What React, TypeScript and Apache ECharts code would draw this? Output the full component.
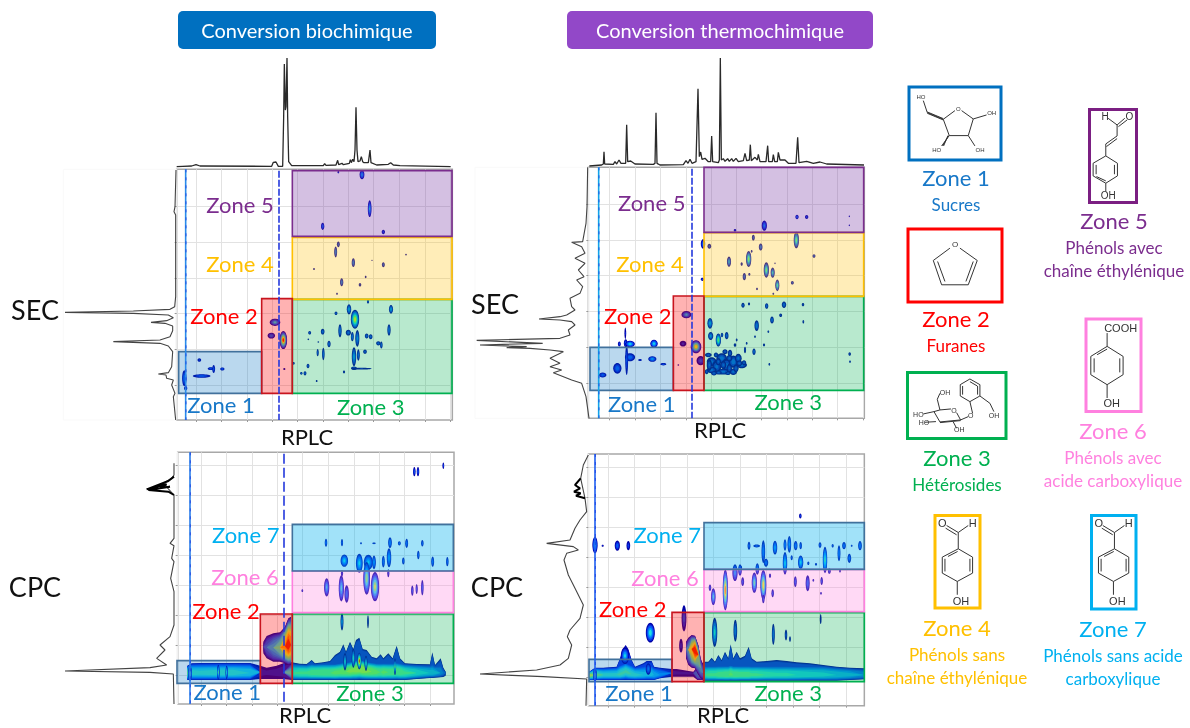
import React, { useEffect, useRef } from "react";
import * as echarts from "echarts";

// All panel values in arbitrary reading units (the reference prints no scale).
type Blob = number[]; // centre RT, centre SEC/CPC, width, height, peak intensity

const colBlue = "#1878c8", colRed = "#ff0000", colGreen = "#00b050", colGold = "#ffc000", colPurple = "#7b2d8e", colPink = "#ff80df", colCyan = "#00b0f0";

const aXTicks = [590, 665, 742, 818, 893, 970, 1045, 1121, 1197, 1275, 1352];
const aYTicks = [470, 577, 685, 790, 897, 1005];
const bXTicks = [448, 525, 602, 678, 753, 830, 905, 982, 1058, 1133, 1210];
const bYTicks = [462, 570, 677, 785, 892, 1000];
const cXTicks = [604, 680, 756, 832, 908, 985, 1062, 1138, 1214, 1291];
const cYTicks = [60, 150, 240, 330, 420, 510, 600, 690];
const dXTicks = [445, 523, 602, 682, 761, 841, 920, 1000, 1079, 1158];
const dYTicks = [68, 158, 248, 338, 428, 518, 608, 698];

const aTop = [[530,350],[548,349],[575,348],[588,344],[600,348],[815,349],[820,337],[828,336],[835,349],[848,349],[851,200],[853,42],[856,180],[858,170],[861,24],[863,200],[866,335],[875,347],[970,347],[974,341],[978,346],[1008,345],[1013,331],[1016,344],[1026,340],[1030,344],[1048,340],[1051,329],[1054,338],[1058,328],[1062,335],[1065,300],[1068,172],[1071,300],[1074,335],[1080,333],[1084,320],[1088,335],[1092,338],[1105,338],[1110,300],[1113,338],[1130,345],[1165,343],[1172,338],[1180,345],[1200,347],[1352,350]];
const aLeft = [[528,360],[525,470],[522,485],[527,495],[527,740],[524,770],[510,778],[400,783],[195,787],[400,790],[505,795],[520,803],[500,812],[453,817],[495,820],[518,828],[518,842],[510,860],[480,870],[340,875],[480,880],[505,888],[518,905],[515,950],[505,968],[475,972],[498,975],[500,985],[520,990],[515,1005],[525,1030],[520,1040],[527,1110]];
const bTop = [[388,348],[425,345],[430,342],[432,305],[434,342],[460,343],[465,335],[470,342],[477,330],[483,340],[497,340],[500,224],[503,335],[512,333],[525,342],[580,343],[585,340],[588,188],[591,340],[600,345],[670,344],[678,332],[684,340],[690,328],[696,340],[708,335],[714,116],[718,320],[722,306],[726,328],[735,325],[745,335],[752,335],[755,258],[758,335],[775,338],[778,330],[781,24],[784,330],[790,326],[795,334],[803,326],[808,334],[815,326],[820,334],[828,325],[835,335],[850,332],[855,310],[860,332],[868,330],[871,284],[874,332],[885,322],[892,330],[895,313],[900,335],[918,335],[923,287],[926,335],[937,335],[940,314],[944,335],[952,335],[955,307],[960,330],[975,330],[985,340],[1008,340],[1013,262],[1017,338],[1040,334],[1060,340],[1080,336],[1100,342],[1212,345]];
const bLeft = [[383,352],[381,470],[378,520],[368,575],[335,577],[365,590],[375,610],[345,625],[375,640],[355,660],[372,680],[350,690],[368,710],[360,730],[330,745],[335,770],[345,780],[320,795],[300,800],[237,807],[300,810],[335,815],[345,825],[325,840],[330,855],[300,865],[50,871],[248,880],[60,885],[200,890],[140,893],[210,895],[270,900],[310,905],[270,925],[300,940],[270,950],[305,960],[280,968],[335,990],[365,1000],[378,1040],[387,1105]];
const cLeft = [[522,55],[522,90],[515,100],[490,115],[522,150],[522,280],[510,295],[522,302],[515,340],[522,350],[512,400],[522,440],[522,540],[510,575],[480,600],[495,615],[470,640],[500,660],[450,668],[195,678],[450,682],[520,687],[522,777]];
const cNoise = [[522,95],[505,108],[440,133],[500,118],[480,128],[510,125],[445,135],[505,140],[522,150]];
const dLeft = [[385,30],[370,60],[362,100],[375,160],[380,200],[360,225],[345,250],[330,285],[260,295],[340,305],[355,315],[320,325],[312,345],[325,390],[345,430],[370,480],[360,520],[330,555],[322,575],[335,600],[325,640],[300,660],[230,675],[60,687],[250,695],[380,702],[378,782]];
const dNoise = [[362,100],[345,120],[360,130],[342,140],[362,145],[348,152],[375,160]];

const aBlobs: Blob[] = [
  [598,930,8,8,.15],[605,978,45,8,.25],[632,956,14,6,.2],[641,957,6,20,.2],[667,957,10,7,.2],[553,985,10,42,.3],[557,1015,7,10,.1],
  [825,817,26,18,.5],[814,857,18,14,.3],[850,870,18,48,1],[853,957,4,4,.1],
  [1065,808,20,50,.85],[1047,778,10,26,.4],[1008,790,6,8,.2],[1173,778,9,22,.4],[1104,755,4,8,.2],[1167,840,7,30,.3],[1020,842,7,34,.3],[968,845,8,14,.25],[929,848,6,8,.2],[1045,848,12,14,.25],[1057,860,6,24,.3],[1072,865,9,44,.35],[1100,858,8,12,.25],[1112,860,8,12,.25],[1135,880,10,10,.25],[1144,885,5,18,.25],[987,882,7,16,.25],[953,908,4,18,.2],[970,912,5,32,.25],[1095,905,8,10,.2],[1062,920,10,50,.4],[1075,915,6,30,.25],[1062,955,14,8,.25],[1085,956,50,3,.1],[924,948,6,10,.2],[915,970,6,10,.2],[904,970,5,6,.2],[881,940,4,6,.15],[1032,966,4,6,.1],[950,993,3,4,.08],[925,868,3,3,.08],[955,876,3,3,.05],
  [1015,583,6,14,.2],[1007,606,6,28,.3],[1060,638,7,22,.3],[1150,644,6,12,.2],[1025,697,7,20,.3],[1080,704,5,8,.15],[942,657,3,4,.08],[1097,681,3,5,.08],[1218,614,3,3,.05],[1011,731,3,4,.08],[1116,631,2,2,.05],
  [1086,374,11,24,.4],[1109,476,8,44,.45],[968,529,7,18,.3],[1150,546,7,10,.2],[1015,367,3,5,.1],
];
const bBlobs: Blob[] = [
  [497,880,8,20,.3],[510,882,24,16,.5],[582,881,18,20,.5],[478,882,6,12,.2],[496,850,3,30,.12],
  [510,922,25,20,.3],[500,930,6,80,.2],[577,927,20,14,.4],[472,955,20,28,.3],[610,943,14,5,.2],[428,975,18,12,.25],[540,930,8,4,.1],
  [679,794,24,18,.45],[669,881,16,14,.15],[708,890,26,34,.85],[722,932,20,24,.25],[655,945,3,3,.05],
  [755,935,24,22,.25],[770,950,22,32,.25],[785,925,26,26,.3],[800,945,24,34,.25],[820,935,22,32,.3],[835,925,16,24,.25],[845,945,26,16,.25],[755,960,24,16,.25],[790,965,30,14,.25],[820,965,18,16,.25],[745,915,16,10,.2],[810,910,10,18,.2],[855,900,4,16,.15],[825,885,5,8,.1],[830,870,3,6,.1],[795,905,12,12,.2],[768,915,10,12,.2],
  [748,945,12,30,.22],[762,970,14,10,.22],[775,935,12,18,.22],[790,945,14,20,.22],[808,955,12,24,.22],[808,925,14,16,.22],[828,955,12,20,.22],[838,940,14,14,.22],[852,938,10,12,.2],[740,965,8,12,.2],[776,968,14,8,.22],[804,970,12,8,.22],
  [775,870,12,34,.7],[750,820,12,28,.4],[752,858,12,20,.35],[800,857,8,18,.25],[786,855,5,10,.2],
  [882,905,7,16,.25],[890,827,10,28,.3],[936,810,8,18,.25],[962,796,6,8,.15],[972,764,10,16,.25],[920,768,7,14,.25],[849,766,7,12,.2],[867,762,4,6,.15],[1029,764,5,7,.15],[1030,815,3,8,.1],[912,885,4,6,.1],[925,845,3,5,.1],[885,860,3,5,.1],[860,880,3,6,.1],[928,943,3,6,.1],[1169,912,5,8,.15],[1170,935,3,5,.1],
  [729,582,10,24,.3],[748,589,8,12,.2],[880,563,6,14,.2],[902,591,8,18,.3],[1009,570,12,44,.6],[1062,618,6,8,.2],[807,635,9,26,.4],[866,627,12,42,.65],[875,604,3,6,.1],[845,642,4,8,.12],[868,673,4,6,.15],[853,680,7,18,.25],[919,660,12,40,.6],[938,668,9,26,.45],[945,640,2,3,.05],[952,706,9,30,.55],[997,698,6,8,.2],[891,717,3,5,.1],[940,731,3,4,.1],[727,688,7,7,.2],
  [1011,501,7,10,.3],[1040,501,7,9,.2],[913,527,12,26,.35],[825,541,5,6,.15],[1168,499,2,3,.05],[1168,526,2,3,.05],
];
const cBlobs: Blob[] = [
  [1243,80,5,24,.25],[1254,80,5,24,.25],[1330,62,3,16,.2],
  [978,293,5,20,.25],[1026,293,4,18,.2],[1083,295,3,4,.1],[1122,295,8,3,.1],[1170,293,8,28,.3],[1198,295,6,10,.25],[1220,295,6,24,.25],[1267,295,5,16,.2],[1167,338,10,50,.4],[1255,330,5,22,.2],[1033,347,18,32,.5],[1078,355,16,50,.5],[1105,352,22,40,.45],[1122,352,8,36,.35],[1150,350,6,30,.25],[1210,348,5,18,.2],[1298,350,6,26,.25],[1342,350,5,24,.2],[1165,385,4,20,.15],
  [980,427,12,48,.45],[1024,430,12,70,.5],[1040,447,10,46,.3],[1100,400,16,88,.7],[1125,425,20,78,.75],[1237,437,5,26,.2],[1250,432,4,26,.2],[1267,428,5,40,.25],[907,437,3,6,.1],[1026,385,4,16,.15],
  [1026,530,6,46,.35],[1104,530,3,34,.12],
  [1035,650,7,46,.5],[1060,640,7,50,.55],[1078,648,9,44,1],[1098,655,6,40,.5],[570,685,8,40,.8],[1185,665,4,44,.6],[655,682,5,40,.62],[680,682,4,36,.55],
];
const dBlobs: Blob[] = [
  [405,300,12,44,.5],[428,302,4,4,.1],[472,302,12,26,.3],[505,302,8,24,.2],[571,563,22,52,.55],[1021,213,5,12,.2],
  [867,302,6,20,.2],[890,303,16,6,.2],[910,320,8,60,.3],[945,308,10,36,.4],[975,300,6,30,.3],[988,298,8,44,.35],[1007,302,8,24,.3],[1022,302,5,18,.2],[1080,300,6,14,.2],[1095,345,10,70,.6],[1118,302,4,8,.15],[1137,325,6,42,.3],[1152,302,8,18,.25],[1175,302,3,4,.1],[1200,302,8,24,.3],[1168,340,8,24,.25],[975,355,10,60,.5],[995,338,4,12,.15],[1022,352,12,36,.5],[1045,355,4,8,.15],[1068,358,4,6,.1],[1108,378,6,14,.2],[1140,377,3,8,.1],[918,353,10,20,.25],[842,368,6,10,.15],
  [796,435,12,110,.95],[825,383,12,44,.4],[840,375,8,30,.3],[848,410,6,22,.2],[760,455,10,44,.5],[750,428,5,16,.2],[883,413,12,54,.6],[910,420,14,80,.85],[910,462,5,22,.2],[892,372,8,30,.3],[930,392,4,10,.15],[938,445,5,20,.2],[1006,410,6,28,.25],[1043,415,9,42,.3],[1060,406,3,6,.1],[1085,408,5,20,.2],[1083,445,3,6,.1],
  [764,562,12,78,.5],[826,557,8,58,.3],[940,568,6,56,.3],[978,570,5,28,.2],[990,582,3,14,.12],[1082,522,3,26,.08],
  [672,520,11,70,.25],[663,602,8,36,.15],
  [495,632,20,44,.48],[405,690,8,34,.8],[565,672,12,30,.32],
];

// Broad contour ridges: retention, upper edge, lower edge, ridge line, ridge intensity.
const cBandX = [562,575,600,655,700,750,781,800,830,850,875,900,920,935,945,970,990,1005,1020,1030,1038,1050,1060,1068,1078,1088,1100,1115,1130,1142,1150,1165,1178,1190,1200,1215,1250,1290,1297,1305,1322,1330,1337];
const cBandTop = [662,655,654,654,654,654,662,668,662,655,652,656,657,645,655,652,648,630,620,598,620,590,612,585,578,612,615,635,640,628,640,625,640,602,640,655,657,658,622,660,640,668,680];
const cBandBottom = [705,705,705,705,705,705,702,702,702,702,705,705,705,705,705,705,705,705,705,705,705,705,705,705,705,705,705,705,705,705,705,705,705,705,705,705,702,699,699,698,697,696,692];
const cBandCentre = [684,684,684,684,684,684,682,682,682,682,684,684,684,684,684,684,684,684,682,680,680,678,676,674,670,674,678,680,682,682,682,682,682,680,682,684,684,684,684,684,684,684,684];
const cBandPeak = [.62,.52,.5,.52,.52,.48,.08,.07,.08,.1,.5,.55,.55,.58,.58,.6,.6,.62,.62,.65,.65,.68,.68,.7,.72,.72,.68,.66,.62,.6,.62,.6,.6,.6,.6,.55,.48,.4,.4,.38,.3,.22,.12];
const c2X = [790,800,820,840,855,865,873];
const c2Top = [590,573,565,562,545,520,515];
const c2Bottom = [625,640,650,650,655,660,660];
const c2Centre = [605,607,608,608,604,600,600];
const c2Peak = [.1,.25,.38,.55,.85,1,.9];

const dBandX = [388,405,430,470,480,490,497,505,515,525,550,560,575,582,600,636,650,700,712,725,732,745,755,765,775,785,795,805,812,820,830,840,855,866,875,890,920,950,980,1010,1050,1090,1130,1170,1213];
const dBandTop = [680,668,668,665,640,610,600,612,645,665,655,648,648,665,668,672,672,680,665,655,650,650,638,650,630,645,620,640,598,640,620,640,632,605,640,650,648,645,648,652,655,660,665,668,670];
const dBandBottom = [705,705,705,705,705,705,705,705,705,705,705,705,705,705,700,695,695,695,705,705,707,707,707,707,707,707,707,707,707,707,707,707,707,707,707,707,707,707,707,707,707,707,707,705,703];
const dBandCentre = [690,690,690,690,688,684,680,684,688,690,690,688,688,690,690,684,684,684,690,690,690,690,690,690,690,690,690,690,688,690,690,690,690,690,690,690,690,690,690,690,690,690,690,690,690];
const dBandPeak = [.75,.62,.5,.5,.55,.55,.55,.55,.52,.5,.45,.45,.45,.42,.32,.08,.07,.07,.3,.4,.5,.55,.55,.55,.58,.58,.6,.6,.62,.6,.6,.58,.58,.58,.55,.55,.52,.5,.5,.48,.46,.44,.42,.38,.3];
const d2X = [678,685,695,705,715,722,730];
const d2Top = [590,578,570,572,600,640,662];
const d2Bottom = [640,660,668,670,690,700,704];
const d2Centre = [612,614,612,615,630,670,684];
const d2Peak = [.2,.4,.75,1,.6,.4,.3];

const zoneLook: Record<string, { fill: string; line: string; alpha: number }> = {
  z1: { fill: "#0070c0", line: "#41719c", alpha: 0.27 },
  z2: { fill: "#ff0000", line: "#c8141e", alpha: 0.3 },
  z3: { fill: "#00b050", line: "#00b050", alpha: 0.28 },
  z4: { fill: "#ffc000", line: "#ffc000", alpha: 0.28 },
  z5: { fill: "#7030a0", line: "#7b2d8e", alpha: 0.3 },
  z6: { fill: "#ff80df", line: "#ff80df", alpha: 0.3 },
  z7: { fill: "#00b0f0", line: "#41719c", alpha: 0.37 },
};

const aZones: [string, number, number, number, number][] = [["z1",536,905,785,1030],["z3",877,748,1356,1030],["z4",877,562,1356,748],["z5",877,362,1356,559],["z2",785,746,877,1030]];
const bZones: [string, number, number, number, number][] = [["z1",390,892,640,1021],["z3",732,739,1211,1021],["z4",732,548,1211,739],["z5",732,352,1211,547],["z2",640,738,732,1021]];
const cZones: [string, number, number, number, number][] = [["z1",531,647,781,715],["z3",877,507,1360,715],["z6",877,378,1360,503],["z7",877,238,1360,378],["z2",781,507,877,715]];
const dZones: [string, number, number, number, number][] = [["z1",387,643,636,710],["z3",732,503,1213,710],["z6",732,373,1213,500],["z7",732,233,1213,373],["z2",636,502,732,710]];

const aLabels: [string, string, number, number][] = [["Zone 5",colPurple,720,464],["Zone 4",colGold,720,640],["Zone 2",colRed,672,797],["Zone 1",colBlue,663,1064],["Zone 3",colGreen,1112,1070]];
const bLabels: [string, string, number, number][] = [["Zone 5",colPurple,575,457],["Zone 4",colGold,570,639],["Zone 2",colRed,533,795],["Zone 1",colBlue,545,1060],["Zone 3",colGreen,985,1055]];
const cLabels: [string, string, number, number][] = [["Zone 7",colCyan,737,267],["Zone 6",colPink,735,395],["Zone 2",colRed,678,497],["Zone 1",colBlue,682,739],["Zone 3",colGreen,1110,743]];
const dLabels: [string, string, number, number][] = [["Zone 7",colCyan,622,267],["Zone 6",colPink,615,397],["Zone 2",colRed,518,490],["Zone 1",colBlue,537,742],["Zone 3",colGreen,985,742]];

const LEVELS = [0, .1, .2, .32, .45, .6, .75, .88, .97];
const BAND_LEVELS = [0, .06, .12, .18, .24, .3, .36, .42, .48, .54, .6, .66, .72, .78, .84, .9, .96];
const BAND_CAP = 30; // reading units: how far the inner contours of a ridge reach above or below it
const JET: [number, number[]][] = [[0,[0,0,165]],[.12,[10,50,235]],[.3,[0,144,255]],[.45,[32,224,224]],[.6,[112,240,112]],[.75,[240,240,32]],[.88,[255,128,0]],[1,[224,0,0]]];
function jet(v: number) {
  for (let i = 1; i < JET.length; i++) {
    if (v <= JET[i][0]) {
      const a = JET[i - 1], b = JET[i], t = (v - a[0]) / (b[0] - a[0]);
      return `rgb(${a[1].map((c, k) => Math.round(c + (b[1][k] - c) * t)).join(",")})`;
    }
  }
  return "rgb(224,0,0)";
}

function blobItem(_: any, api: any) {
  const cx = api.value(0), cy = api.value(1), w = api.value(2), h = api.value(3), p = api.value(4);
  const c = api.coord([cx, cy]), e = api.coord([cx + w / 2, cy + h / 2]);
  const rx = Math.abs(e[0] - c[0]) * 1.15 + 0.3, ry = Math.abs(e[1] - c[1]) * 1.1 + 0.3;
  const children = LEVELS.filter((l) => l <= p).map((l) => {
    const f = 1 - (l / p) * 0.85;
    return { type: "ellipse", shape: { cx: c[0], cy: c[1], rx: Math.max(rx * f, 0.4), ry: Math.max(ry * f, 0.4) }, style: { fill: jet(l) } };
  });
  return { type: "group", children };
}

type Band = { x: number[]; top: number[]; bottom: number[]; centre: number[]; peak: number[]; capped: boolean };
function bandSeries(band: Band, xi: number, yi: number) {
  return {
    type: "custom", coordinateSystem: "cartesian2d", xAxisIndex: xi, yAxisIndex: yi, silent: true,
    data: [[band.x[0], band.top[0]]], encode: { x: 0, y: 1 },
    renderItem: (_: any, api: any) => {
      const children = BAND_LEVELS.map((l) => {
        const up: number[][] = [], low: number[][] = [];
        band.x.forEach((x, i) => {
          const f = Math.pow(Math.max(0, 1 - l / band.peak[i]), 0.45);
          let rise = (band.centre[i] - band.top[i]) * f;
          if (band.capped && l > 0.12) rise = Math.min(rise, BAND_CAP * f);
          up.push(api.coord([x, band.centre[i] - rise]));
          low.unshift(api.coord([x, band.centre[i] + (band.bottom[i] - band.centre[i]) * f]));
        });
        return { type: "polygon", shape: { points: up.concat(low) }, style: { fill: jet(l) } };
      });
      return { type: "group", children };
    },
  };
}

type Panel = {
  ox: number; oy: number; x0: number; x1: number; y0: number; y1: number; l0: number; t0?: number;
  xTicks: number[]; yTicks: number[]; top?: number[][]; left: number[][]; noise?: number[][];
  blobs: Blob[]; bands: Band[]; zones: [string, number, number, number, number][]; labels: [string, string, number, number][];
  solid: number; solidColor: string; dashed: number; dash: number[]; ghost: string;
};
const panels: Panel[] = [
  { ox: 0, oy: 50, x0: 530, x1: 1357, y0: 358, y1: 1110, l0: 190, t0: 24, xTicks: aXTicks, yTicks: aYTicks, top: aTop, left: aLeft, blobs: aBlobs, bands: [], zones: aZones, labels: aLabels, solid: 557, solidColor: "#2a8cea", dashed: 837, dash: [7, 2], ghost: "#f9f9f9" },
  { ox: 460, oy: 50, x0: 385, x1: 1213, y0: 352, y1: 1105, l0: 45, t0: 24, xTicks: bXTicks, yTicks: bYTicks, top: bTop, left: bLeft, blobs: bBlobs, bands: [], zones: bZones, labels: bLabels, solid: 416, solidColor: "#12a4ea", dashed: 696, dash: [7, 2], ghost: "#f9f9f9" },
  { ox: 0, oy: 445, x0: 533, x1: 1362, y0: 22, y1: 777, l0: 190, xTicks: cXTicks, yTicks: cYTicks, left: cLeft, noise: cNoise, blobs: cBlobs,
    bands: [{ x: cBandX, top: cBandTop, bottom: cBandBottom, centre: cBandCentre, peak: cBandPeak, capped: true }, { x: c2X, top: c2Top, bottom: c2Bottom, centre: c2Centre, peak: c2Peak, capped: false }], zones: cZones, labels: cLabels, solid: 570, solidColor: "#2a7eea", dashed: 852, dash: [10, 4], ghost: "#ffffff" },
  { ox: 460, oy: 445, x0: 385, x1: 1213, y0: 27, y1: 782, l0: 45, xTicks: dXTicks, yTicks: dYTicks, left: dLeft, noise: dNoise, blobs: dBlobs,
    bands: [{ x: dBandX, top: dBandTop, bottom: dBandBottom, centre: dBandCentre, peak: dBandPeak, capped: true }, { x: d2X, top: d2Top, bottom: d2Bottom, centre: d2Centre, peak: d2Peak, capped: false }], zones: dZones, labels: dLabels, solid: 405, solidColor: "#2060f0", dashed: -1, dash: [7, 2], ghost: "#ffffff" },
];

const headers = [
  { text: "Conversion biochimique", x: 178, w: 258, fill: "#0070c0" },
  { text: "Conversion thermochimique", x: 567, w: 306, fill: "#9248c8" },
];
const sideLabels = [
  { text: "SEC", x: 35, y: 309, size: 27 }, { text: "SEC", x: 495, y: 303, size: 27 },
  { text: "CPC", x: 35, y: 586, size: 27 }, { text: "CPC", x: 497, y: 586, size: 27 },
  { text: "RPLC", x: 307, y: 436, size: 22 }, { text: "RPLC", x: 720, y: 429, size: 22 },
  { text: "RPLC", x: 305, y: 714, size: 22 }, { text: "RPLC", x: 723, y: 714, size: 22 },
];
const cards = [
  { box: [909, 87, 92, 73], color: "#0070c0", name: "Zone 1", tx: 956, ty: 179, lines: ["Sucres"], tc: colBlue },
  { box: [908, 229, 94, 73], color: "#ff0000", name: "Zone 2", tx: 956, ty: 320, lines: ["Furanes"], tc: colRed },
  { box: [907.5, 372.5, 98.5, 66], color: "#00b050", name: "Zone 3", tx: 957, ty: 459, lines: ["Hétérosides"], tc: colGreen },
  { box: [935, 515.5, 45, 92.5], color: "#ffc000", name: "Zone 4", tx: 957, ty: 629, lines: ["Phénols sans", "chaîne éthylénique"], tc: colGold },
  { box: [1089.5, 109.5, 47, 93], color: "#7b1f82", name: "Zone 5", tx: 1114, ty: 222, lines: ["Phénols avec", "chaîne éthylénique"], tc: colPurple },
  { box: [1086, 319, 55, 92.5], color: "#ff80df", name: "Zone 6", tx: 1113, ty: 432, lines: ["Phénols avec", "acide carboxylique"], tc: colPink },
  { box: [1091.5, 515.5, 44.5, 93.5], color: "#00b0f0", name: "Zone 7", tx: 1113, ty: 630, lines: ["Phénols sans acide", "carboxylique"], tc: colCyan },
];

// Molecule drawings, in the 3x crop's units from the origin given beside each.
const molecules: { name: string; d: string; ox: number; oy: number; texts: [string, number, number, number][] }[] = [
  { name: "molSugar", ox: 890, oy: 70, d: "M160 148L195 122M215 122L250 147L235 197L178 197L160 148M160 148L112 128L100 92M160 146L112 126M160 150L112 130M178 197L155 228M176 197L158 228M174 197L161 228M235 197L255 228M250 147L290 135",
    texts: [["HO", 93, 80, 6], ["OH", 305, 130, 6], ["O", 205, 117, 6], ["HO", 140, 240, 6], ["OH", 270, 240, 6]] },
  { name: "molFuran", ox: 890, oy: 70, d: "M180 535L130 572L155 645L235 645L262 572L210 535M143 575L165 635M250 575L228 635",
    texts: [["O", 195, 522, 8]] },
  { name: "molCinn", ox: 890, oy: 70, d: "M655 145L682 165L705 145M686 170L712 150M682 165L682 198L648 222M682 206L650 230M648 222L648 258L683 280L683 318L648 340L610 318L610 280L648 258M674 285L674 313M619 285L619 313M620 320L648 333M648 340L648 365",
    texts: [["H", 645, 138, 10], ["O", 718, 138, 10], ["OH", 655, 377, 10]] },
  { name: "molAcid", ox: 890, oy: 70, d: "M652 790L652 830L700 860L700 915L652 945L603 915L603 860L652 830M690 866L690 908M613 866L613 908M622 855L652 838M652 945L652 985",
    texts: [["COOH", 692, 775, 11], ["OH", 665, 1000, 11]] },
  { name: "molGluco", ox: 890, oy: 360, d: "M150 150L183 147M200 158L212 180L150 186L132 155L150 150M212 182L150 188M150 150L142 118L150 100M132 155L100 162M138 185L105 187M190 186L200 205M212 180L235 170M248 160L240 125L211 108L211 74L240 57L270 74L270 108L240 125M218 104L218 78M263 104L263 78M240 65L262 78M270 108L300 130L312 155",
    texts: [["OH", 165, 98, 7], ["HO", 85, 163, 7], ["HO", 102, 187, 7], ["OH", 208, 208, 7], ["O", 192, 152, 7], ["O", 242, 165, 7], ["OH", 312, 165, 7]] },
  { name: "molAldA", ox: 890, oy: 360, d: "M170 497L205 518L235 497M167 505L200 525M205 518L205 567L248 592L248 640L202 665L157 640L157 592L205 567M240 597L240 635M165 597L165 635M174 590L203 575M202 665L202 705",
    texts: [["O", 157, 490, 11], ["H", 248, 490, 11], ["OH", 213, 722, 11]] },
  { name: "molAldB", ox: 890, oy: 360, d: "M639 497L674 518L704 497M636 505L669 525M674 518L674 567L717 592L717 640L671 665L626 640L626 592L674 567M709 597L709 635M634 597L634 635M643 590L672 575M671 665L671 705",
    texts: [["O", 626, 490, 11], ["H", 716, 490, 11], ["OH", 682, 722, 11]] },
];

function buildOption() {
  const grid: any[] = [], xAxis: any[] = [], yAxis: any[] = [], series: any[] = [];
  const hidden = { show: false };
  panels.forEach((p) => {
    const left = p.ox + p.x0 / 3, width = (p.x1 - p.x0) / 3, top = p.oy + p.y0 / 3, height = (p.y1 - p.y0) / 3;
    const main = grid.length;
    grid.push({ left, top, width, height, show: true, borderColor: "#a8a8a8", borderWidth: 1.5, backgroundColor: "#fff" });
    xAxis.push({ type: "value", gridIndex: main, min: p.x0, max: p.x1, axisLine: { show: false }, axisLabel: { show: false },
      axisTick: { show: true, length: 2, customValues: p.xTicks, lineStyle: { color: "#999" } }, splitLine: { show: true, lineStyle: { color: "#e2e2e2" } } });
    yAxis.push({ type: "value", gridIndex: main, min: p.y0, max: p.y1, inverse: true, axisLine: { show: false }, axisLabel: { show: false },
      axisTick: { show: true, length: 2, customValues: p.yTicks, lineStyle: { color: "#999" } }, splitLine: { show: true, lineStyle: { color: "#e2e2e2" } } });

    const leftIdx = grid.length;
    grid.push({ left: p.ox + p.l0 / 3, top, width: (p.x0 - p.l0) / 3, height, show: true, borderColor: p.ghost, borderWidth: 1 });
    xAxis.push({ type: "value", gridIndex: leftIdx, min: p.l0, max: p.x0, ...hidden });
    yAxis.push({ type: "value", gridIndex: leftIdx, min: p.y0, max: p.y1, inverse: true, ...hidden });
    series.push({ type: "line", xAxisIndex: leftIdx, yAxisIndex: leftIdx, data: p.left, showSymbol: false, lineStyle: { color: "#444", width: 1.1 }, silent: true });
    if (p.noise) series.push({ type: "line", xAxisIndex: leftIdx, yAxisIndex: leftIdx, data: p.noise, showSymbol: false, lineStyle: { color: "#000", width: 2 }, silent: true });

    if (p.top && p.t0 != null) {
      const topIdx = grid.length;
      grid.push({ left, top: p.oy + p.t0 / 3, width, height: (p.y0 - p.t0) / 3 });
      xAxis.push({ type: "value", gridIndex: topIdx, min: p.x0, max: p.x1, ...hidden });
      yAxis.push({ type: "value", gridIndex: topIdx, min: p.t0, max: p.y0, inverse: true, ...hidden });
      series.push({ type: "line", xAxisIndex: topIdx, yAxisIndex: topIdx, data: p.top, showSymbol: false, lineStyle: { color: "#2a2a2a", width: 1.3 }, silent: true });
    }

    p.bands.forEach((b) => series.push(bandSeries(b, main, main)));
    series.push({ type: "custom", coordinateSystem: "cartesian2d", xAxisIndex: main, yAxisIndex: main, silent: true, data: p.blobs, encode: { x: 0, y: 1 }, renderItem: blobItem });

    series.push({ type: "line", xAxisIndex: main, yAxisIndex: main, data: [[p.solid, p.y0], [p.solid, p.y1]], showSymbol: false, silent: true, lineStyle: { color: p.solidColor, width: 1.6 } });
    series.push({ type: "line", xAxisIndex: main, yAxisIndex: main, data: [[p.solid + 1, p.y0], [p.solid + 1, p.y1]], showSymbol: false, silent: true, lineStyle: { color: "#1a3ee0", width: 0.8, type: [3, 5] } });
    if (p.dashed > 0) series.push({ type: "line", xAxisIndex: main, yAxisIndex: main, data: [[p.dashed, p.y0 + 4], [p.dashed, p.y1]], showSymbol: false, silent: true, lineStyle: { color: "#2238dc", width: 1.6, type: p.dash } });

    series.push({ type: "custom", coordinateSystem: "cartesian2d", xAxisIndex: main, yAxisIndex: main, silent: true,
      data: p.zones.map((z) => z.slice(1)), encode: { x: [0, 2], y: [1, 3] },
      renderItem: (params: any, api: any) => {
        const a = api.coord([api.value(0), api.value(1)]), b = api.coord([api.value(2), api.value(3)]);
        const look = zoneLook[p.zones[params.dataIndex][0]];
        return { type: "group", children: [
          { type: "rect", shape: { x: a[0], y: a[1], width: b[0] - a[0], height: b[1] - a[1] }, style: { fill: look.fill, opacity: look.alpha } },
          { type: "rect", shape: { x: a[0], y: a[1], width: b[0] - a[0], height: b[1] - a[1] }, style: { fill: "none", stroke: look.line, lineWidth: 1.6 } },
        ] };
      } });
    series.push({ type: "custom", coordinateSystem: "cartesian2d", xAxisIndex: main, yAxisIndex: main, silent: true,
      data: p.labels.map((l) => [l[2], l[3]]), encode: { x: 0, y: 1 },
      renderItem: (params: any, api: any) => {
        const c = api.coord([api.value(0), api.value(1)]);
        const l = p.labels[params.dataIndex];
        return { type: "text", style: { text: l[0], x: c[0], y: c[1], fill: l[1], font: "22px Lato", align: "center", verticalAlign: "middle" } };
      } });
  });

  const g: any[] = [];
  const label = (text: string, x: number, y: number, size: number, fill: string, family = "Lato") =>
    ({ type: "text", x, y, style: { text, x: 0, y: 0, fill, font: `${size}px ${family}`, align: "center", verticalAlign: "middle" } });
  headers.forEach((h) => {
    g.push({ type: "rect", shape: { x: h.x, y: 11, width: h.w, height: 38, r: 5 }, style: { fill: h.fill } });
    g.push(label(h.text, h.x + h.w / 2, 30, 20, "#ffffff"));
  });
  sideLabels.forEach((s) => g.push(label(s.text, s.x, s.y, s.size, "#111111")));
  cards.forEach((c) => {
    g.push({ type: "rect", shape: { x: c.box[0], y: c.box[1], width: c.box[2], height: c.box[3] }, style: { fill: "none", stroke: c.color, lineWidth: 3 } });
    g.push(label(c.name, c.tx, c.ty - 1.5, 22, c.tc));
    c.lines.forEach((t, i) => g.push(label(t, c.tx, c.ty + 25.5 + i * 22.5, 17, c.tc)));
  });
  molecules.forEach((m) => {
    g.push({ type: m.name, x: m.ox, y: m.oy, scaleX: 1 / 3, scaleY: 1 / 3, style: { fill: "none", stroke: "#333333", lineWidth: 3 } });
    m.texts.forEach((t) => g.push(label(t[0], m.ox + t[1] / 3, m.oy + t[2] / 3, t[3], "#333333", "Liberation Sans")));
  });

  return { animation: false, backgroundColor: "#ffffff", grid, xAxis, yAxis, series, graphic: { elements: g } };
}

export default function App() {
  const ref = useRef<HTMLDivElement>(null);
  useEffect(() => {
    molecules.forEach((m) => echarts.graphic.registerShape(m.name, echarts.graphic.extendPath(m.d, {}) as any));
    const chart = echarts.init(ref.current!, undefined, { renderer: "svg" });
    chart.setOption(buildOption() as any);
    return () => chart.dispose();
  }, []);
  return <div ref={ref} style={{ position: "absolute", left: 0, top: 0, width: 1190, height: 728, filter: "blur(0.45px)" }} />;
}
